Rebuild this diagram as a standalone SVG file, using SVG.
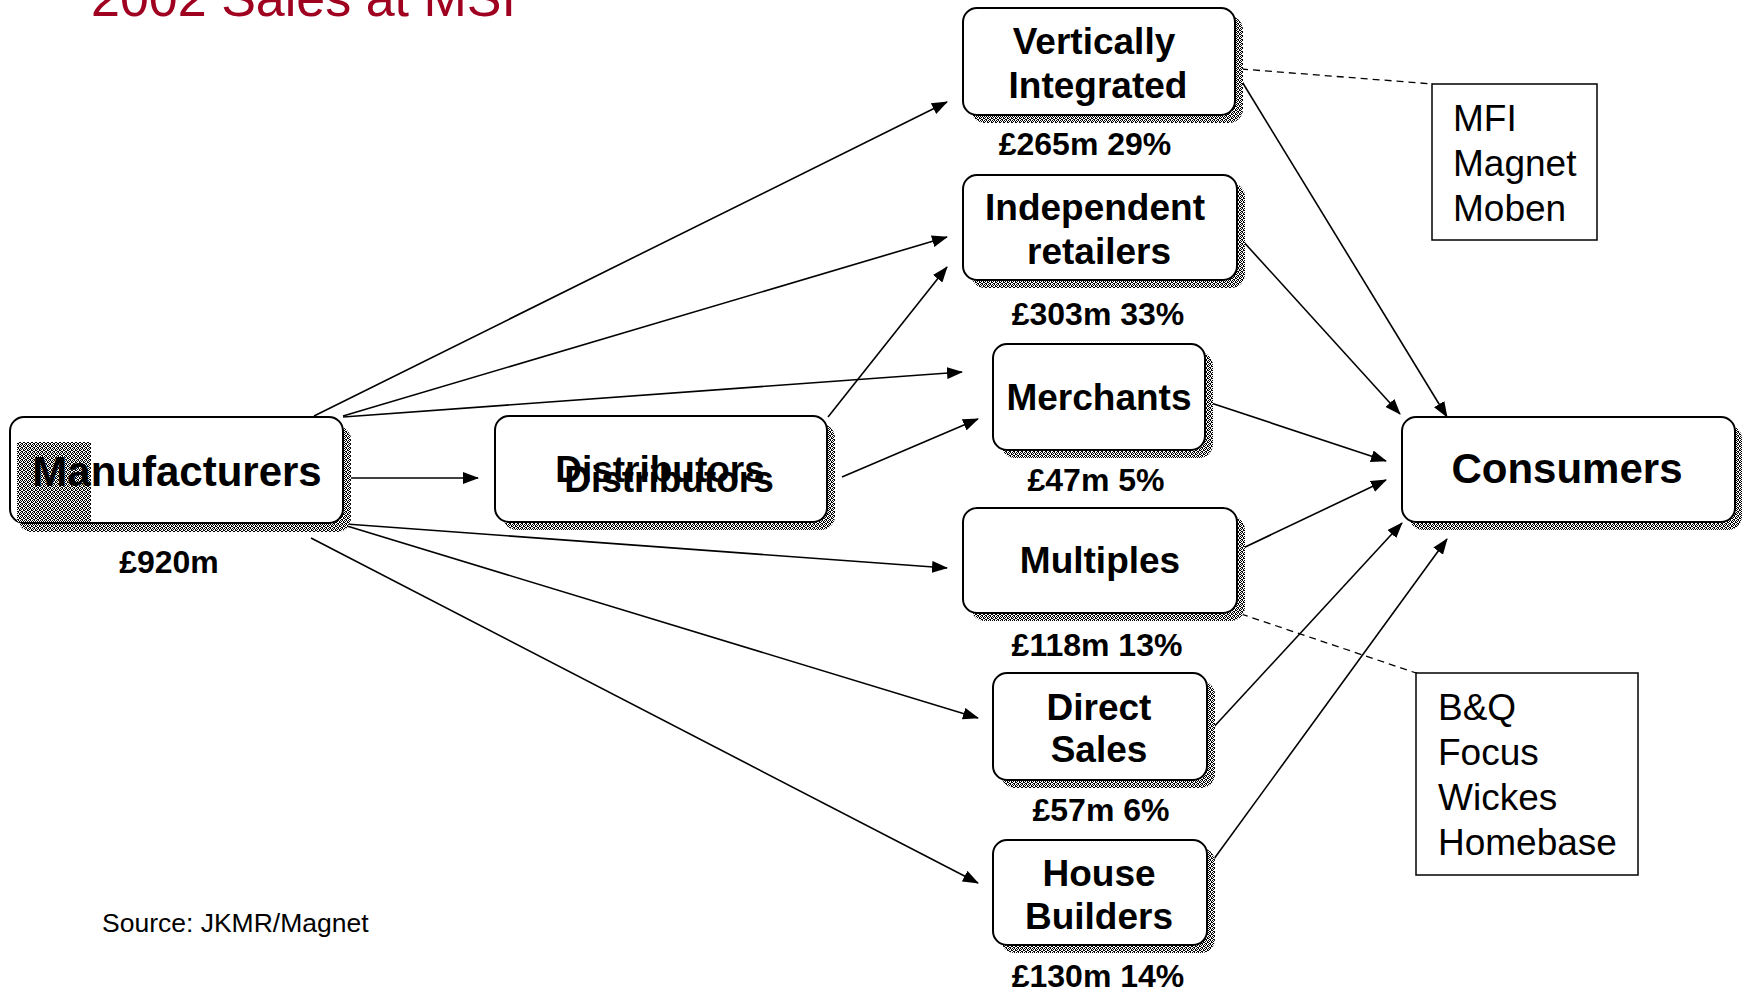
<svg xmlns="http://www.w3.org/2000/svg" width="1742" height="990" viewBox="0 0 1742 990">
<defs>
<pattern id="dither" width="4" height="4" patternUnits="userSpaceOnUse">
<rect width="4" height="4" fill="#fff"/>
<path d="M0 0h1v1h-1zM2 0h1v1h-1zM1 1h1v1h-1zM3 1h1v1h-1zM0 2h1v1h-1zM3 2h1v1h-1zM1 3h1v1h-1zM2 3h1v1h-1z" fill="#000"/>
</pattern>
<marker id="arr" markerWidth="16" markerHeight="12" refX="15" refY="6" orient="auto" markerUnits="userSpaceOnUse">
<path d="M0,0 L16,6 L0,12 z" fill="#000"/>
</marker>
</defs>
<style>
.shadow{fill:url(#dither)}
.box{fill:#fff;stroke:#000;stroke-width:2}
.nt{font-family:"Liberation Sans",Arial,sans-serif;font-weight:bold;font-size:37px;text-anchor:middle;fill:#000}
.big{font-size:42px}
.lab{font-family:"Liberation Sans",Arial,sans-serif;font-weight:bold;font-size:32px;text-anchor:middle;fill:#000}
.note{fill:#fff;stroke:#000;stroke-width:1.5}
.nl{font-family:"Liberation Sans",Arial,sans-serif;font-size:37px;fill:#000}
.conn line{stroke:#000;stroke-width:1.6;marker-end:url(#arr)}
.conn line.dash{stroke-dasharray:7 5;marker-end:none;stroke-width:1.3}
</style>
<rect width="1742" height="990" fill="#fff"/>
<text x="91" y="16" font-family="Liberation Sans, Arial, sans-serif" font-size="52" fill="#A00020">2002 Sales at MSI</text>
<g id="connectors" class="conn">
<line x1="314" y1="416" x2="947" y2="102"/>
<line x1="343" y1="416" x2="947" y2="237"/>
<line x1="343" y1="417" x2="962" y2="372"/>
<line x1="348" y1="478" x2="478" y2="478"/>
<line x1="346" y1="524" x2="947" y2="568"/>
<line x1="347" y1="526" x2="978" y2="718"/>
<line x1="311" y1="538" x2="978" y2="883"/>
<line x1="828" y1="417" x2="947" y2="267"/>
<line x1="842" y1="477" x2="978" y2="419"/>
<line x1="1241" y1="80" x2="1447" y2="417"/>
<line x1="1241" y1="239" x2="1400" y2="414"/>
<line x1="1211" y1="403" x2="1386" y2="461"/>
<line x1="1241" y1="549" x2="1386" y2="480"/>
<line x1="1211" y1="730" x2="1402" y2="523"/>
<line x1="1211" y1="863" x2="1447" y2="539"/>
<line class="dash" x1="1241" y1="69" x2="1433" y2="84"/>
<line class="dash" x1="1241" y1="614" x2="1419" y2="674"/>
</g>
<g id="manufacturers">
<rect class="shadow" x="18" y="426" width="333" height="106" rx="14"/>
<rect class="box" x="10" y="417" width="333" height="106" rx="14"/>
<rect class="shadow" x="17" y="442" width="74" height="80"/>
<text class="nt big" x="177" y="486">Manufacturers</text>
<text class="lab" x="169" y="573">£920m</text>
</g>
<g id="distributors">
<rect class="shadow" x="503" y="424" width="332" height="106" rx="14"/>
<rect class="box" x="495" y="416" width="332" height="106" rx="14"/>
<text class="nt" x="660" y="482" font-size="35">Distributors</text>
<text class="nt" x="669" y="492" font-size="36">Distributors</text>
</g>
<g id="vertically-integrated">
<rect class="shadow" x="971" y="16" width="272" height="107" rx="14"/>
<rect class="box" x="963" y="8" width="272" height="107" rx="14"/>
<text class="nt" x="1094" y="54">Vertically</text>
<text class="nt" x="1098" y="98">Integrated</text>
<text class="lab" x="1085" y="155">£265m 29%</text>
</g>
<g id="independent-retailers">
<rect class="shadow" x="971" y="183" width="274" height="105" rx="14"/>
<rect class="box" x="963" y="175" width="274" height="105" rx="14"/>
<text class="nt" x="1095" y="220">Independent</text>
<text class="nt" x="1099" y="264">retailers</text>
<text class="lab" x="1098" y="325">£303m 33%</text>
</g>
<g id="merchants">
<rect class="shadow" x="1001" y="352" width="212" height="106" rx="14"/>
<rect class="box" x="993" y="344" width="212" height="106" rx="14"/>
<text class="nt" x="1099" y="410">Merchants</text>
<text class="lab" x="1096" y="491">£47m 5%</text>
</g>
<g id="multiples">
<rect class="shadow" x="971" y="516" width="274" height="105" rx="14"/>
<rect class="box" x="963" y="508" width="274" height="105" rx="14"/>
<text class="nt" x="1100" y="573">Multiples</text>
<text class="lab" x="1097" y="656">£118m 13%</text>
</g>
<g id="direct-sales">
<rect class="shadow" x="1001" y="681" width="214" height="107" rx="14"/>
<rect class="box" x="993" y="673" width="214" height="107" rx="14"/>
<text class="nt" x="1099" y="720">Direct</text>
<text class="nt" x="1099" y="762">Sales</text>
<text class="lab" x="1101" y="821">£57m 6%</text>
</g>
<g id="house-builders">
<rect class="shadow" x="1001" y="848" width="214" height="105" rx="14"/>
<rect class="box" x="993" y="840" width="214" height="105" rx="14"/>
<text class="nt" x="1099" y="886">House</text>
<text class="nt" x="1099" y="929">Builders</text>
<text class="lab" x="1098" y="987">£130m 14%</text>
</g>
<g id="consumers">
<rect class="shadow" x="1409" y="425" width="333" height="105" rx="14"/>
<rect class="box" x="1402" y="417" width="333" height="105" rx="14"/>
<text class="nt big" x="1567" y="483">Consumers</text>
</g>
<g id="note-vertical">
<rect class="note" x="1432" y="84" width="165" height="156"/>
<text class="nl" x="1453" y="131">MFI</text>
<text class="nl" x="1453" y="176">Magnet</text>
<text class="nl" x="1453" y="221">Moben</text>
</g>
<g id="note-multiples">
<rect class="note" x="1416" y="673" width="222" height="202"/>
<text class="nl" x="1438" y="720">B&amp;Q</text>
<text class="nl" x="1438" y="765">Focus</text>
<text class="nl" x="1438" y="810">Wickes</text>
<text class="nl" x="1438" y="855">Homebase</text>
</g>
<text x="102" y="932" font-family="Liberation Sans, Arial, sans-serif" font-size="26.5" fill="#000">Source: JKMR/Magnet</text>
</svg>
